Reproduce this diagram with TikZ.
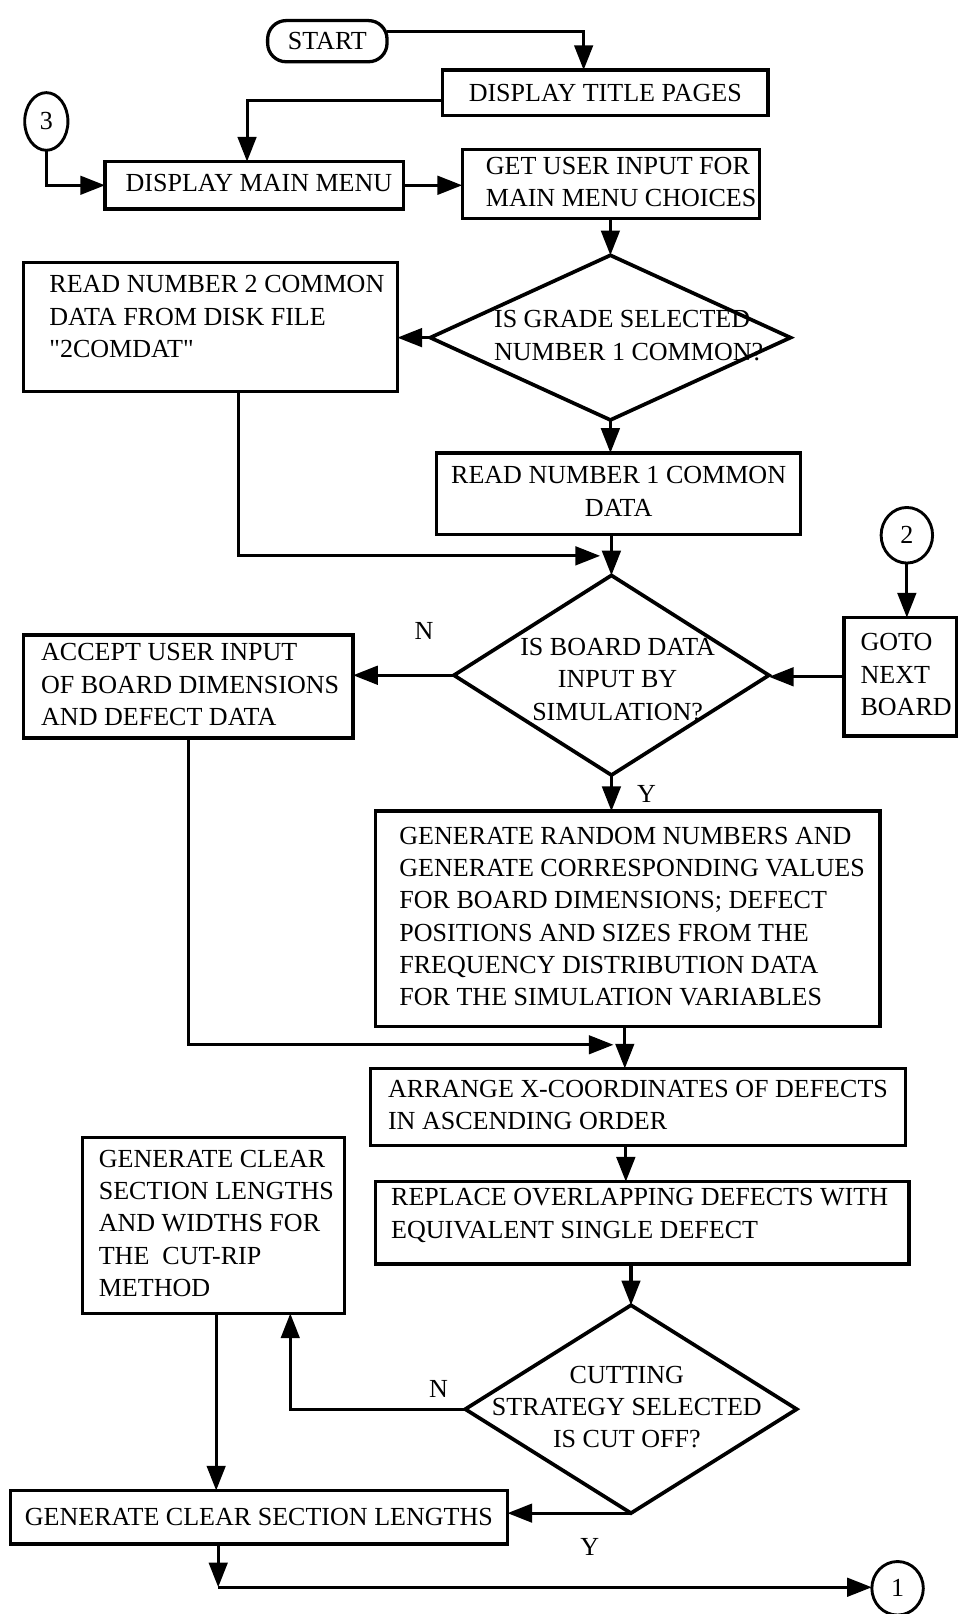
\documentclass[tikz,border=0pt]{standalone}
\usepackage{fontspec}
\setmainfont{Liberation Serif}[Ligatures=TeXOff]
\usetikzlibrary{arrows.meta,shapes.geometric,calc}

% left-aligned block of lines set in a box of fixed width (lines may run past it)
\newcommand{\leftlines}[2]{\makebox[#1][l]{\begin{tabular}{@{}l@{}}#2\end{tabular}}}
\newcommand{\midlines}[1]{\begin{tabular}{@{}c@{}}#1\end{tabular}}

\tikzset{
  every node/.style={font=\fontsize{12.65}{15.7}\selectfont, inner sep=0pt, outer sep=0pt},
  procbox/.style={draw, rectangle, line width=1.6pt},
  decision/.style={draw, diamond, line width=1.8pt},
  terminal/.style={draw, rectangle, rounded corners=9pt, line width=1.6pt},
  connector/.style={draw, ellipse, line width=1.4pt},
  flow/.style={line width=1.5pt, -{Triangle[length=12pt,width=9pt]}},
}

\begin{document}
\begin{tikzpicture}[x=0.5pt,y=-0.5pt]
\useasboundingbox (0,0) rectangle (930,1568);

% ---------- nodes ----------
\node[terminal, minimum width=58pt, minimum height=20pt] (start) at (318,40) {START};
\node[procbox, minimum width=158pt, minimum height=22pt] (title) at (588,90) {DISPLAY TITLE PAGES};
\node[connector, minimum width=21pt, minimum height=28pt] (circthree) at (45,118) {3};
\node[procbox, minimum width=145pt, minimum height=23pt] (mainmenu) at (247,180)
  {\leftlines{125pt}{DISPLAY MAIN MENU}};
\node[procbox, minimum width=144.5pt, minimum height=33.5pt] (getinput) at (593.5,178.5)
  {\leftlines{121.5pt}{GET USER INPUT FOR\\MAIN MENU CHOICES}};

\node[decision, minimum width=175pt, minimum height=80pt,
  label={[xshift=8.5pt]center:\leftlines{130pt}{IS GRADE SELECTED\\NUMBER 1 COMMON?}}]
  (grade) at (593,328) {};
\node[procbox, minimum width=181.5pt, minimum height=62.5pt] (readtwo) at (204.5,317.5)
  {\leftlines{156.5pt}{READ NUMBER 2 COMMON\\DATA FROM DISK FILE\\"2COMDAT"\\[8pt]}};
\node[procbox, minimum width=177pt, minimum height=39.5pt] (readone) at (601,479.5)
  {\midlines{READ NUMBER 1 COMMON\\DATA}};

\node[connector, minimum width=25pt, minimum height=27pt] (circtwo) at (881,520) {2};
\node[procbox, minimum width=54.5pt, minimum height=57.5pt] (gotonext) at (874.5,657.5)
  {\leftlines{38.5pt}{GOTO\\NEXT\\BOARD}};
\node[decision, minimum width=153pt, minimum height=97pt,
  label={[xshift=3pt,yshift=-3pt]center:\midlines{IS BOARD DATA\\INPUT BY\\SIMULATION?}}]
  (board) at (594,656) {};
\node[procbox, minimum width=160pt, minimum height=50pt] (accept) at (183,667)
  {\leftlines{143pt}{ACCEPT USER INPUT\\OF BOARD DIMENSIONS\\AND DEFECT DATA}};
\node (nboard) at (412,613) {N};
\node (yboard) at (628,771) {Y};

\node[procbox, minimum width=245pt, minimum height=104.5pt] (generate) at (610,892.5)
  {\leftlines{222pt}{GENERATE RANDOM NUMBERS AND\\GENERATE CORRESPONDING VALUES\\FOR BOARD DIMENSIONS; DEFECT\\POSITIONS AND SIZES FROM THE\\FREQUENCY DISTRIBUTION DATA\\FOR THE SIMULATION VARIABLES}};
\node[procbox, minimum width=260pt, minimum height=37.5pt] (arrange) at (620,1075.5)
  {\leftlines{243pt}{ARRANGE X-COORDINATES OF DEFECTS\\IN ASCENDING ORDER}};
\node[procbox, minimum width=259pt, minimum height=40pt] (replace) at (624,1188)
  {\leftlines{244pt}{REPLACE OVERLAPPING DEFECTS WITH\\EQUIVALENT SINGLE DEFECT\\[7pt]}};
\node[procbox, minimum width=127.5pt, minimum height=85.5pt] (cutrip) at (207.5,1190.5)
  {\leftlines{111.5pt}{GENERATE CLEAR\\SECTION LENGTHS\\AND WIDTHS FOR\\THE\ \ CUT-RIP\\METHOD}};

\node[decision, minimum width=161pt, minimum height=101pt,
  label={[xshift=-2pt]center:\midlines{CUTTING\\STRATEGY SELECTED\\IS CUT OFF?}}]
  (strategy) at (613,1369) {};
\node (nstrat) at (426,1349) {N};
\node (ystrat) at (573,1503) {Y};
\node[procbox, minimum width=241.5pt, minimum height=26pt] (clearlen) at (251.5,1474)
  {GENERATE CLEAR SECTION LENGTHS};
\node[connector, minimum width=25pt, minimum height=26pt] (circone) at (872,1543) {1};

% junction points on the main flow
\coordinate (joinone) at (583,540);
\coordinate (jointwo) at (596,1015);
\coordinate (jointhree) at (212,1542);

% ---------- connectors ----------
\draw[flow] ([yshift=4.5pt]start.east) -| ([xshift=-10.5pt]title.north);
\draw[flow] ([yshift=-4pt]title.west) -| ([xshift=-3.5pt]mainmenu.north);
\draw[flow] (circthree.south) |- (mainmenu.west);
\draw[flow] (mainmenu.east) -- (mainmenu.east -| getinput.west);
\draw[flow] (getinput.south -| grade.north) -- (grade.north);

\draw[flow] (grade.west) -- (grade.west -| readtwo.east);
\draw[flow] (grade.south) -- (grade.south |- readone.north);
\draw[flow] ([xshift=13.75pt]readtwo.south) |- (joinone);
\draw[flow] (readone.south -| board.north) -- (board.north);

\draw[flow] (circtwo.south) -- (circtwo.south |- gotonext.north);
\draw[flow] (gotonext.west) -- (gotonext.west -| board.east);
\draw[flow] (board.west) -- (board.west -| accept.east);
\draw[flow] (board.south) -- (board.south |- generate.north);

\draw[flow] (accept.south) |- (jointwo);
\draw[flow] ([xshift=-1.5pt]generate.south) -- ([xshift=-1.5pt]generate.south |- arrange.north);
\draw[flow] ([xshift=-6pt]arrange.south) -- ([xshift=-6pt]arrange.south |- replace.north);
\draw[flow] (replace.south -| strategy.north) -- (strategy.north);

\draw[flow] (strategy.west) -| ([xshift=37.25pt]cutrip.south);
\draw[flow] (strategy.south) -- (strategy.south -| clearlen.east);
\draw[flow] ([xshift=1.25pt]cutrip.south) -- ([xshift=1.25pt]cutrip.south |- clearlen.north);
\draw[flow] (clearlen.south -| jointhree) -- (jointhree);
\draw[flow] (jointhree) -- (jointhree -| circone.west);

\end{tikzpicture}
\end{document}
